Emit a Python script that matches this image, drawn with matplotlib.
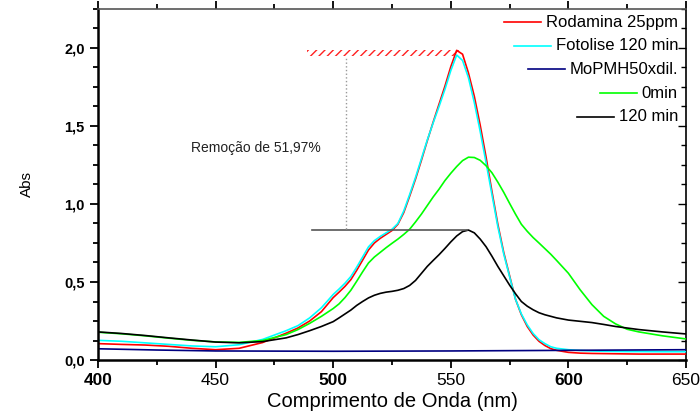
import matplotlib
matplotlib.use("Agg")
import matplotlib.pyplot as plt
from matplotlib.patches import Rectangle
from matplotlib.lines import Line2D
from matplotlib.ticker import MultipleLocator, FuncFormatter

plt.rcParams['font.family'] = ['Liberation Sans', 'DejaVu Sans']

# espectros UV-Vis (nm / Abs); passo de 2,5 nm na região da banda
wl = ([400, 410, 420, 430, 440, 450, 460, 470, 480, 485, 490, 495]
      + [500 + 2.5 * i for i in range(39)]
      + [600, 605, 610, 615, 620, 625, 630, 640, 650])

rodamina = [0.105, 0.100, 0.096, 0.088, 0.075, 0.066, 0.075, 0.112, 0.172, 0.205, 0.250, 0.310,
            0.400, 0.435, 0.472, 0.515, 0.575, 0.640, 0.705, 0.750, 0.780, 0.805,
            0.830, 0.870, 0.945, 1.050, 1.160, 1.280, 1.405, 1.525, 1.640, 1.755,
            1.880, 1.985, 1.960, 1.840, 1.690, 1.505, 1.300, 1.080, 0.870, 0.690,
            0.540, 0.390, 0.290, 0.215, 0.160, 0.120, 0.093, 0.073, 0.062,
            0.049, 0.044, 0.042, 0.041, 0.040, 0.039, 0.038, 0.038, 0.038]

fotolise = [0.126, 0.120, 0.110, 0.100, 0.090, 0.085, 0.098, 0.132, 0.188, 0.220, 0.270, 0.335,
            0.420, 0.455, 0.492, 0.535, 0.595, 0.660, 0.725, 0.765, 0.792, 0.815,
            0.838, 0.875, 0.955, 1.060, 1.170, 1.290, 1.410, 1.520, 1.625, 1.735,
            1.855, 1.955, 1.920, 1.810, 1.650, 1.465, 1.265, 1.060, 0.855, 0.680,
            0.534, 0.390, 0.295, 0.225, 0.170, 0.130, 0.105, 0.085, 0.075,
            0.066, 0.061, 0.058, 0.056, 0.055, 0.054, 0.054, 0.053, 0.053]

min0 = [0.178, 0.168, 0.155, 0.140, 0.126, 0.116, 0.113, 0.125, 0.163, 0.195, 0.235, 0.280,
        0.330, 0.360, 0.400, 0.447, 0.505, 0.565, 0.622, 0.660, 0.690, 0.720,
        0.748, 0.775, 0.805, 0.838, 0.885, 0.935, 0.990, 1.045, 1.095, 1.150,
        1.197, 1.240, 1.278, 1.300, 1.298, 1.280, 1.245, 1.200, 1.140, 1.075,
        1.004, 0.935, 0.870, 0.825, 0.785, 0.750, 0.714, 0.678, 0.638,
        0.556, 0.450, 0.355, 0.280, 0.232, 0.197, 0.180, 0.155, 0.135]

min120 = [0.180, 0.170, 0.157, 0.142, 0.128, 0.115, 0.110, 0.118, 0.142, 0.163, 0.188, 0.215,
          0.246, 0.270, 0.295, 0.320, 0.350, 0.375, 0.398, 0.415, 0.427, 0.435,
          0.440, 0.447, 0.458, 0.478, 0.510, 0.555, 0.600, 0.638, 0.675, 0.715,
          0.757, 0.795, 0.823, 0.833, 0.815, 0.775, 0.726, 0.665, 0.600, 0.540,
          0.480, 0.425, 0.375, 0.345, 0.322, 0.303, 0.290, 0.280, 0.270,
          0.256, 0.248, 0.240, 0.228, 0.215, 0.205, 0.195, 0.180, 0.167]

wl_mo = [400, 425, 450, 500, 550, 600, 650]
mopmh = [0.072, 0.064, 0.058, 0.056, 0.058, 0.062, 0.066]

series = [
    (wl, rodamina, '#ff0000', 'Rodamina 25ppm'),
    (wl, fotolise, '#00ffff', 'Fotolise 120 min'),
    (wl_mo, mopmh, '#000080', 'MoPMH50xdil.'),
    (wl, min0, '#00ff00', '0min'),
    (wl, min120, '#000000', '120 min'),
]

fig = plt.figure(figsize=(7, 4.12), dpi=100)
ax = fig.add_axes([0.14, 0.1262, 0.84, 0.852])

for x, y, c, lab in series:
    ax.plot(x, y, color=c, lw=1.2)

ax.set_xlim(400, 650)
ax.set_ylim(0, 2.25)

# remoção: pico inicial (faixa hachurada) vs pico após 120 min
ax.add_patch(Rectangle((489, 1.949), 65, 0.041, hatch='////', edgecolor='#ff2020',
                       facecolor='none', lw=0))
ax.plot([491, 557], [0.835, 0.835], color='#555555', lw=1.2)
ax.plot([505.5, 505.5], [0.84, 1.936], color='#999999', lw=1, ls=':')
ax.text(439.7, 1.36, 'Remoção de 51,97%', fontsize=10, color='#222222', va='center')

# eixos
ax.xaxis.set_major_locator(MultipleLocator(50))
ax.xaxis.set_minor_locator(MultipleLocator(25))
ax.yaxis.set_major_locator(MultipleLocator(0.5))
ax.yaxis.set_minor_locator(MultipleLocator(0.125))
ax.yaxis.set_major_formatter(FuncFormatter(lambda v, p: f"{v:.1f}".replace('.', ',')))
ax.tick_params(which='both', direction='out', top=True, right=False, width=1.3)
ax.tick_params(which='major', length=6)
ax.tick_params(which='minor', length=3.5)
ax.tick_params(axis='x', labelsize=12.5)
ax.tick_params(axis='y', labelsize=10.5)

right = ax.secondary_yaxis('right')
right.yaxis.set_major_locator(MultipleLocator(0.5))
right.yaxis.set_minor_locator(MultipleLocator(0.125))
right.tick_params(which='both', direction='in', labelright=False, width=1)
right.tick_params(which='major', length=6)
right.tick_params(which='minor', length=3.5)
right.spines['right'].set_linewidth(1.2)

ax.spines['left'].set_linewidth(1.8)
ax.spines['bottom'].set_linewidth(1.8)
ax.spines['top'].set_linewidth(1.2)
ax.spines['top'].set_color('#555555')
ax.spines['right'].set_visible(False)

ax.set_xlabel('Comprimento de Onda (nm)', fontsize=14.5, labelpad=3)
ax.set_ylabel('Abs', fontsize=11, labelpad=22)

fig.canvas.draw()
for lbl in ax.get_xticklabels():
    if lbl.get_text() in ('400', '500', '600'):
        lbl.set_fontweight('bold')
for lbl in ax.get_yticklabels():
    lbl.set_fontweight('bold')

# legenda alinhada à direita, linha antes do texto
W, H = fig.canvas.get_width_height()
renderer = fig.canvas.get_renderer()
text_right = 678
row_y = [22, 45.5, 69, 93, 116.5]
for (x, y, c, lab), ry in zip(series, row_y):
    t = fig.text(text_right / W, 1 - ry / H, lab, ha='right', va='center', fontsize=12)
    bb = t.get_window_extent(renderer)
    x1 = bb.x0 - 5
    x0 = x1 - 37
    fig.add_artist(Line2D([x0 / W, x1 / W], [1 - ry / H, 1 - ry / H],
                          transform=fig.transFigure, color=c, lw=1.2))

fig.savefig('out.png', dpi=100)
